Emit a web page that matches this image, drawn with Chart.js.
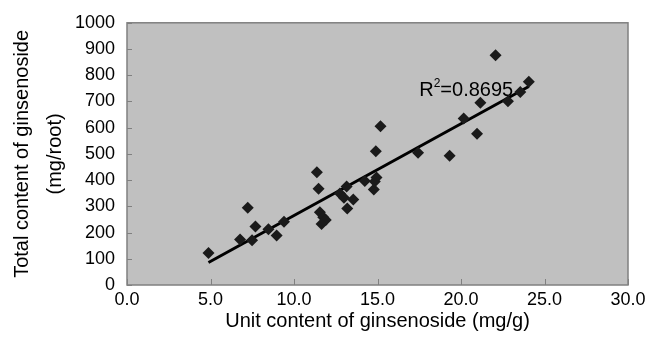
<!DOCTYPE html>
<html>
<head>
<meta charset="utf-8">
<script src="https://cdn.jsdelivr.net/npm/chart.js@4/dist/chart.umd.min.js"></script>
<style>
  html, body { margin: 0; padding: 0; background: #fff; }
  #wrap { width: 658px; height: 352px; position: relative; }
</style>
</head>
<body>
<div id="wrap"><canvas id="chart"></canvas></div>
<script>
// Unit content of ginsenoside (mg/g)
const unitContent = [
  4.88, 6.77, 7.23, 7.49, 7.69, 8.47, 8.96, 9.40,
  11.37, 11.47, 11.55, 11.75, 11.90, 11.65,
  12.75, 12.99, 13.15, 13.19, 13.55, 14.24,
  14.90, 14.78, 14.84, 14.94, 15.18,
  17.43, 19.32, 20.16, 20.96, 21.16, 22.07, 22.81, 23.55, 24.06
]
// Total content of ginsenoside (mg/root)
const totalContent = [
  122, 174, 295, 171, 223, 213, 189, 241,
  430, 367, 277, 258, 248, 233,
  349, 333, 376, 292, 326, 397,
  510, 364, 395, 410, 605,
  504, 493, 635, 577, 695, 876, 701, 736, 775
]
const xTicks = [0, 5, 10, 15, 20, 25, 30]
const yTicks = [0, 100, 200, 300, 400, 500, 600, 700, 800, 900, 1000]
const rSquared = '0.8695'

const FONT = '"Liberation Sans", Arial, Helvetica, sans-serif'

// Точки
const points = unitContent.map((x, i) => ({ x: x, y: totalContent[i] }))

// Линейный тренд (метод наименьших квадратов)
function linearFit(xs, ys) {
  const n = xs.length
  const mx = xs.reduce((a, b) => a + b, 0) / n
  const my = ys.reduce((a, b) => a + b, 0) / n
  let sxy = 0
  let sxx = 0
  xs.forEach((x, i) => {
    sxy += (x - mx) * (ys[i] - my)
    sxx += (x - mx) * (x - mx)
  })
  const slope = sxy / sxx
  return { slope: slope, intercept: my - slope * mx }
}
const fit = linearFit(unitContent, totalContent)
const xMin = Math.min(...unitContent)
const xMax = Math.max(...unitContent)
const trend = [
  { x: xMin, y: fit.intercept + fit.slope * xMin },
  { x: xMax, y: fit.intercept + fit.slope * xMax },
]

// Серый фон, рамка и внутренние засечки
const plotFrame = {
  id: 'plotFrame',
  beforeDatasetsDraw(chart) {
    const { ctx, chartArea: a, scales } = chart
    ctx.save()
    ctx.fillStyle = '#c0c0c0'
    ctx.fillRect(a.left, a.top, a.width, a.height)
    ctx.strokeStyle = '#808080'
    ctx.lineWidth = 1.5
    ctx.strokeRect(a.left, a.top, a.width, a.height)
    ctx.lineWidth = 1
    ctx.beginPath()
    yTicks.forEach((v) => {
      const py = Math.round(scales.y.getPixelForValue(v)) + 0.5
      ctx.moveTo(a.left, py)
      ctx.lineTo(a.left + 5, py)
    })
    xTicks.forEach((v) => {
      const px = Math.round(scales.x.getPixelForValue(v)) + 0.5
      ctx.moveTo(px, a.bottom)
      ctx.lineTo(px, a.bottom - 6)
    })
    ctx.stroke()
    ctx.restore()
  },
}

// Подпись R²
const rLabel = {
  id: 'rLabel',
  afterDatasetsDraw(chart) {
    const { ctx, scales } = chart
    let x = scales.x.getPixelForValue(17.5)
    const y = scales.y.getPixelForValue(742)
    ctx.save()
    ctx.fillStyle = '#000'
    ctx.textBaseline = 'middle'
    ctx.font = '20px ' + FONT
    ctx.fillText('R', x, y)
    x += ctx.measureText('R').width
    ctx.font = '12px ' + FONT
    ctx.fillText('2', x, y - 7)
    x += ctx.measureText('2').width
    ctx.font = '20px ' + FONT
    ctx.fillText('=' + rSquared, x, y)
    ctx.restore()
  },
}

new Chart(document.getElementById('chart'), {
  type: 'scatter',
  data: {
    datasets: [
      {
        data: points,
        pointStyle: 'rectRot',
        pointRadius: 6,
        pointHoverRadius: 6,
        backgroundColor: '#1a1a1a',
        borderColor: '#1a1a1a',
        borderWidth: 0,
        order: 1,
      },
      {
        type: 'line',
        data: trend,
        borderColor: '#000',
        borderWidth: 3,
        pointRadius: 0,
        fill: false,
        order: 2,
      },
    ],
  },
  options: {
    responsive: true,
    maintainAspectRatio: false,
    animation: false,
    events: [],
    layout: {
      padding: { left: 0, top: 15, right: 30, bottom: 0 },
    },
    plugins: {
      legend: { display: false },
      tooltip: { enabled: false },
    },
    scales: {
      x: {
        type: 'linear',
        min: 0,
        max: 30,
        afterBuildTicks: (scale) => {
          scale.ticks = xTicks.map((v) => ({ value: v }))
        },
        afterFit: (scale) => {
          scale.height = 67
        },
        grid: { display: false, drawTicks: false },
        border: { display: false },
        ticks: {
          color: '#000',
          font: { family: FONT, size: 18 },
          padding: 4,
          maxRotation: 0,
          callback: (v) => Number(v).toFixed(1),
        },
        title: {
          display: true,
          text: 'Unit content of ginsenoside (mg/g)',
          color: '#000',
          font: { family: FONT, size: 20 },
          padding: { top: 0, bottom: 19 },
        },
      },
      y: {
        type: 'linear',
        min: 0,
        max: 1000,
        afterBuildTicks: (scale) => {
          scale.ticks = yTicks.map((v) => ({ value: v }))
        },
        afterFit: (scale) => {
          scale.width = 127
        },
        grid: { display: false, drawTicks: false },
        border: { display: false },
        ticks: {
          color: '#000',
          font: { family: FONT, size: 18 },
          padding: 12,
          callback: (v) => String(v),
        },
        title: {
          display: true,
          text: ['Total content of ginsenoside', '(mg/root)'],
          color: '#000',
          font: { family: FONT, size: 20, lineHeight: 1.65 },
          padding: { top: 6, bottom: 0 },
        },
      },
    },
  },
  plugins: [plotFrame, rLabel],
})
</script>
</body>
</html>
